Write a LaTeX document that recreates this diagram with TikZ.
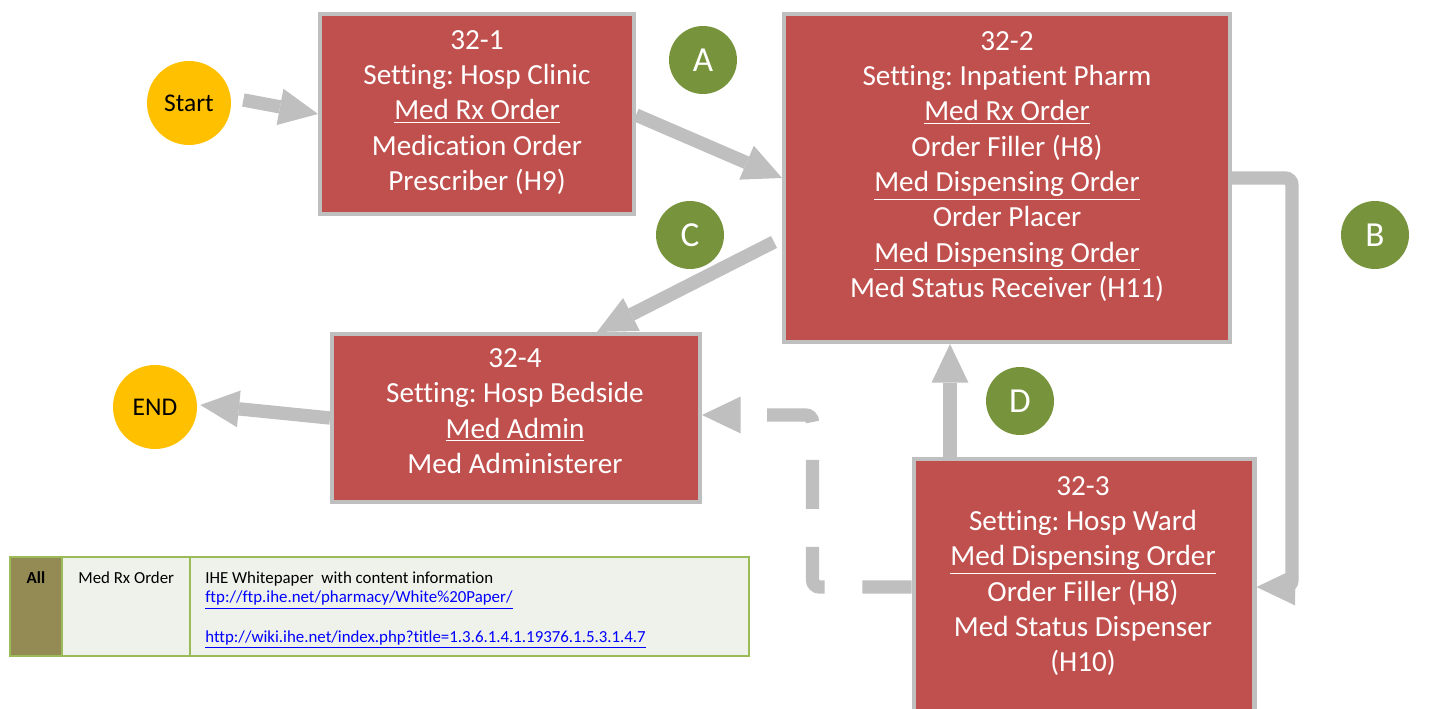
\documentclass[tikz,border=0pt]{standalone}
\usepackage{fontspec}
\setmainfont{Carlito}[Ligatures=NoCommon]
\usetikzlibrary{arrows.meta,calc}
\definecolor{boxred}{HTML}{C0504D}
\definecolor{linegray}{HTML}{BFBFBF}
\definecolor{stepgreen}{HTML}{77933C}
\definecolor{termyellow}{HTML}{FFC000}
\definecolor{tableolive}{HTML}{948A54}
\definecolor{tablefill}{HTML}{EFF2EA}
\definecolor{tableline}{HTML}{9BBB59}
\frenchspacing
\tikzset{
  box/.style={draw=linegray, line width=2.3pt, fill=boxred, inner sep=0},
  boxtext/.style={text=white, align=center, inner sep=0, font=\fontsize{16.6}{20.1}\selectfont},
  tag/.style={circle, fill=stepgreen, text=white, minimum size=1.36cm, inner sep=0, font=\fontsize{20}{24}\selectfont},
  terminal/.style={circle, fill=termyellow, minimum size=1.68cm, inner sep=0, font=\fontsize{14.5}{17}\selectfont},
  flow/.style={draw=linegray, line width=7.6pt, rounded corners=4pt, -{Triangle[length=22pt,width=21pt,line width=0pt]}},
  celltext/.style={inner sep=0, align=left, font=\fontsize{9.6}{11.3}\selectfont}
}
\begin{document}
\begin{tikzpicture}[x=0.02cm,y=-0.02cm]
\useasboundingbox (0,0) rectangle (1440,709);
% boxes
\node[box, minimum width=6.28cm, minimum height=4.0cm] (clinic) at (477,114) {};
\node[box, minimum width=8.92cm, minimum height=6.56cm] (pharm) at (1007,178) {};
\node[box, minimum width=7.36cm, minimum height=3.36cm] (bedside) at (516,418) {};
\node[box, minimum width=6.82cm, minimum height=5.12cm] (ward) at (1084,587) {};
\node[boxtext] (clinictext) at (477,112.5) {32-1\\Setting: Hosp Clinic\\\underline{Med Rx Order}\\Medication Order\\Prescriber (H9)};
\node[boxtext] (pharmtext) at (1007,166.5) {32-2\\Setting: Inpatient Pharm\\\underline{Med Rx Order}\\Order Filler (H8)\\\underline{Med Dispensing Order}\\Order Placer\\\underline{Med Dispensing Order}\\Med Status Receiver (H11)};
\node[boxtext] (bedsidetext) at (515,411) {32-4\\Setting: Hosp Bedside\\\underline{Med Admin}\\Med Administerer};
\node[boxtext] (wardtext) at (1083,576) {32-3\\Setting: Hosp Ward\\\underline{Med Dispensing Order}\\Order Filler (H8)\\Med Status Dispenser\\(H10)};
% start and end
\node[terminal] (start) at (189,103) {Start};
\node[terminal] (end) at (155,407) {END};
% step letters
\node[tag] (a) at (703,60) {A};
\node[tag] (b) at (1375,235) {B};
\node[tag] (c) at (690,235) {C};
\node[tag] (d) at (1020,401) {D};
% flows
\draw[flow] ($(start.east)+(12,-3)$) -- (clinic.west);
\draw[flow] ($(clinic.east)+(0,1)$) -- (pharm.west);
\draw[flow] (pharm.east) -- ++(60,0) |- (ward.east);
\draw[flow] ($(pharm.west)+(-8,64)$) -- ($(bedside.north)+(81,0)$);
\draw[flow] ($(ward.north)+(-134,0)$) -- ($(pharm.south)+(-57,0)$);
\draw[flow, dash pattern=on 28pt off 21.5pt] (ward.west) -- ++(-99,0) |- ($(bedside.east)+(0,-3)$);
\draw[flow] (bedside.west) -- ($(end.east)+(3,-2)$);
% table
\draw[tableline, line width=1.2pt, fill=tablefill] (10,557) rectangle (749,656);
\fill[tableolive] (11,558) rectangle (62,655);
\draw[tableline, line width=1.2pt] (62,557) -- (62,656) (190,557) -- (190,656);
\node[celltext, anchor=north] (alltext) at (36,571) {\textbf{All}};
\node[celltext, anchor=north west] (ordertext) at (78,571) {Med Rx Order};
\node[celltext, anchor=north west] (whitetext) at (205,571) {IHE Whitepaper\ \ with content information\\
  {\color{blue}\underline{ftp://ftp.ihe.net/pharmacy/White\%20Paper/}}\\[11.3pt]
  {\color{blue}\underline{http://wiki.ihe.net/index.php?title=1.3.6.1.4.1.19376.1.5.3.1.4.7}}};
\end{tikzpicture}
\end{document}
